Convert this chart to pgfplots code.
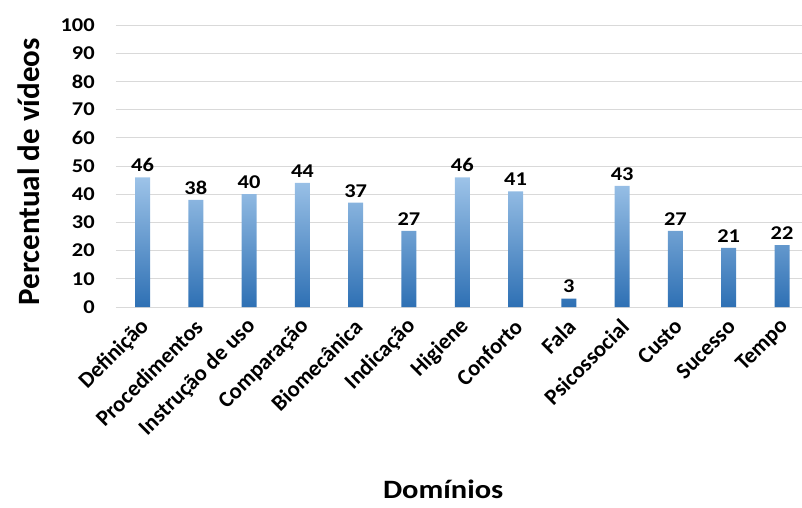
\documentclass[border=0pt]{standalone}
\usepackage{fontspec}
\setmainfont{Carlito}
\newfontfamily\wide{Carlito}[FakeStretch=1.15]
\usepackage{pgfplots}
\pgfplotsset{compat=1.18}
\definecolor{gridgray}{RGB}{217,217,217}
\definecolor{bartop}{RGB}{157,195,232}
\definecolor{barbot}{RGB}{46,112,180}
\begin{document}
\begin{tikzpicture}
\begin{axis}[
  name=ax,
  scale only axis,
  width=686bp, height=282bp,
  xmin=-0.5, xmax=12.375,
  ymin=0, ymax=100,
  ytick={0,10,...,100},
  xtick={0,...,12},
  xticklabels={Definição,Procedimentos,Instrução de uso,Comparação,Biomecânica,Indicação,Higiene,Conforto,Fala,Psicossocial,Custo,Sucesso,Tempo},
  axis line style={draw=none},
  major tick length=0pt,
  ymajorgrids,
  grid style={gridgray, line width=0.9pt},
  /pgf/number format/assume math mode=true,
  yticklabel style={font=\wide\fontsize{19.5bp}{22bp}\selectfont\bfseries, inner sep=0pt, anchor=east, xshift=-21bp},
  xticklabel style={font=\fontsize{22.5bp}{24bp}\selectfont\bfseries, inner sep=0pt, xshift=3bp, yshift=-16bp, rotate=45, anchor=east},
  ylabel={Percentual de vídeos},
  ylabel style={font=\fontsize{31bp}{33bp}\selectfont\bfseries, at={(axis description cs:-0.1273,0.479)}, anchor=center},
  xlabel={Domínios},
  xlabel style={font=\wide\fontsize{26.5bp}{28bp}\selectfont\bfseries, at={(axis description cs:0.477,0)}, anchor=base, yshift=-191bp},
  nodes near coords,
  every node near coord/.append style={font=\wide\fontsize{19.5bp}{22bp}\selectfont\bfseries, black, yshift=2bp},
  clip=false,
]
\addplot[ybar, bar width=15bp, draw=none, top color=bartop, bottom color=barbot]
  coordinates {(0,46) (1,38) (2,40) (3,44) (4,37) (5,27) (6,46) (7,41) (8,3) (9,43) (10,27) (11,21) (12,22)};
\end{axis}
\pgfresetboundingbox
\useasboundingbox ([xshift=-115.85bp,yshift=25bp]ax.north west) rectangle ([yshift=-200bp]ax.south east);
\end{tikzpicture}
\end{document}
